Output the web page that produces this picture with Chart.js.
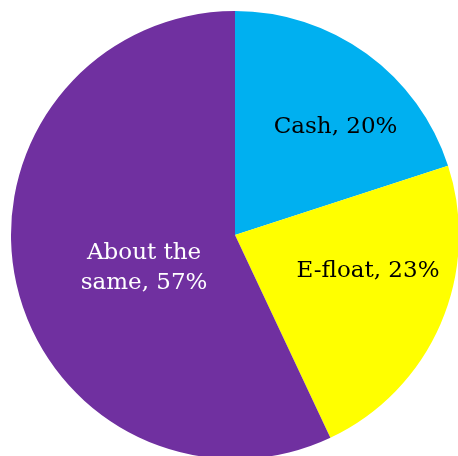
<!DOCTYPE html>
<html>
<head>
<meta charset="utf-8">
<script src="https://cdn.jsdelivr.net/npm/chart.js@4.4.1/dist/chart.umd.min.js"></script>
<style>
  html, body { margin: 0; padding: 0; background: #ffffff; overflow: hidden; }
  #wrap { position: absolute; left: 0; top: 0; width: 470px; height: 470px; }
</style>
</head>
<body>
<div id="wrap"><canvas id="pie" width="470" height="470"></canvas></div>
<script>
// Share of respondents by preferred option
const categories = ['Cash', 'E-float', 'About the same'];
const shares = [20, 23, 57];
const sliceColors = ['#00B0F0', '#FFFF00', '#7030A0'];
const labelColors = ['#000000', '#000000', '#FFFFFF'];

// Draws "<category>, <value>%" inside each slice
const sliceLabels = {
  id: 'sliceLabels',
  afterDatasetsDraw(chart, args, opts) {
    const { ctx } = chart;
    const meta = chart.getDatasetMeta(0);
    const values = chart.data.datasets[0].data;
    ctx.save();
    ctx.font = opts.font;
    ctx.textAlign = 'center';
    ctx.textBaseline = 'alphabetic';
    meta.data.forEach((arc, i) => {
      const text = chart.data.labels[i] + ', ' + values[i] + '%';
      const lines = [];
      let line = '';
      text.split(' ').forEach(word => {
        const test = line ? line + ' ' + word : word;
        if (line && ctx.measureText(test).width > opts.maxWidth[i]) {
          lines.push(line);
          line = word;
        } else {
          line = test;
        }
      });
      lines.push(line);
      const r = arc.outerRadius;
      const x = arc.x + opts.anchor[i][0] * r;
      const y = arc.y + opts.anchor[i][1] * r;
      ctx.fillStyle = labelColors[i];
      lines.forEach((l, k) => ctx.fillText(l, x, y + k * opts.lineHeight));
    });
    ctx.restore();
  }
};

new Chart(document.getElementById('pie'), {
  type: 'pie',
  data: {
    labels: categories,
    datasets: [{
      data: shares,
      backgroundColor: sliceColors,
      borderWidth: 0
    }]
  },
  options: {
    responsive: false,
    animation: false,
    layout: { padding: 11 },
    plugins: {
      legend: { display: false },
      tooltip: { enabled: false },
      sliceLabels: {
        font: '23px "DejaVu Serif", Georgia, serif',
        lineHeight: 30,
        maxWidth: [200, 200, 130],
        anchor: [[0.449, -0.457], [0.594, 0.1875], [-0.406, 0.106]]
      }
    }
  },
  plugins: [sliceLabels]
});
</script>
</body>
</html>
